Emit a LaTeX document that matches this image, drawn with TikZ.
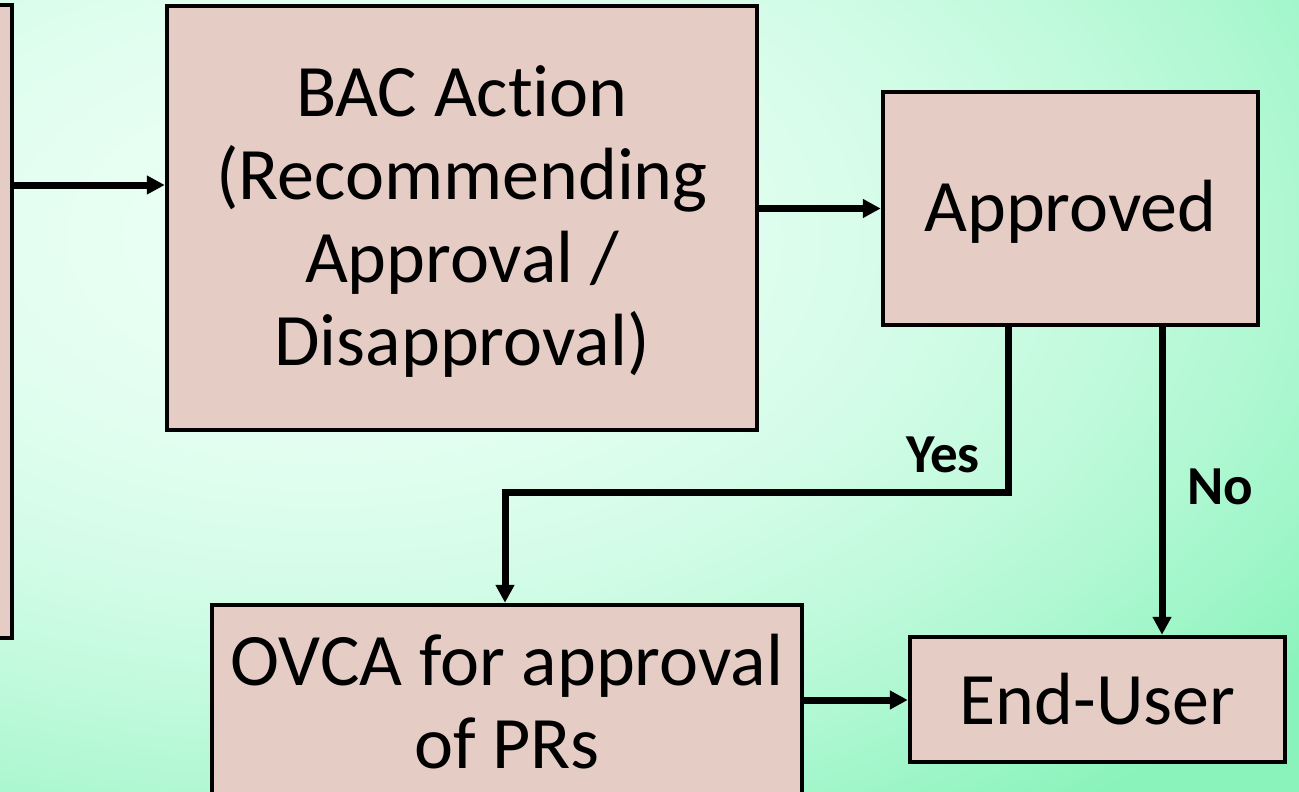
\documentclass[tikz,border=0pt]{standalone}
\usepackage{fontspec}
\setmainfont{Carlito}[Ligatures=NoCommon]
\usetikzlibrary{arrows.meta}
\definecolor{boxfill}{HTML}{E5CDC6}
\pgfdeclarefunctionalshading{bgfun}{\pgfpointorigin}{\pgfpoint{1299bp}{792bp}}{}{
  792 div 1 exch sub 0.3 sub dup mul 118 mul
  exch 1299 div 0.25 sub dup mul 110 mul add 96 div
  dup 1 gt {pop 1} if
  dup 0.376 mul 0.918 exch sub exch
  dup 0.047 mul 1 exch sub exch
  0.224 mul 0.961 exch sub
}
\begin{document}
\begin{tikzpicture}[x=1pt,y=-1pt,
  box/.style={draw=black, line width=4.5pt, fill=boxfill, inner sep=0pt, align=center,
    font=\fontsize{74}{83}\selectfont},
  conn/.style={line width=7pt, -{Triangle[length=18pt,width=18pt]}},
  lbl/.style={font=\fontsize{55}{60}\selectfont\bfseries, inner sep=0pt}]
\useasboundingbox (0,0) rectangle (1299,792);
\node[inner sep=0pt, outer sep=0pt] (bg) at (649.5,396) {\pgfuseshading{bgfun}};
\node[box, minimum width=62pt, minimum height=633pt] (left) at (-19,321.5) {};
\node[box, minimum width=590pt, minimum height=424pt, text depth=5pt] (bac) at (462,218)
  {BAC Action\\(Recommending\\Approval /\\Disapproval)};
\node[box, minimum width=375pt, minimum height=233pt, text depth=5pt] (appr) at (1070.5,208.5) {Approved};
\node[box, minimum width=590pt, minimum height=194pt] (ovca) at (507,702)
  {OVCA for approval\\of PRs};
\node[box, minimum width=375pt, minimum height=125pt] (end) at (1097.5,699.5) {End-User};
\draw[conn] (left.east |- 0,185) -- (bac.west |- 0,185);
\draw[conn] (bac.east |- appr.west) -- (appr.west);
\draw[conn] (appr.south -| 1008,0) -- (1008,492) -| (ovca.north -| 505,0);
\draw[conn] (appr.south -| 1162,0) -- (end.north -| 1162,0);
\draw[conn] (ovca.east |- 0,700) -- (end.west |- 0,700);
\node[lbl] (yes) at (943,455) {Yes};
\node[lbl] (no) at (1220,487) {No};
\end{tikzpicture}
\end{document}
